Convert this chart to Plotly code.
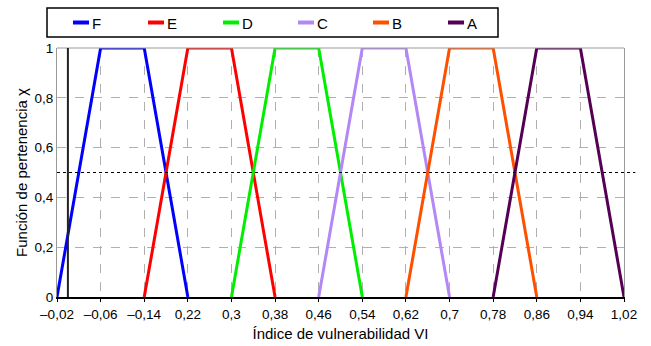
import plotly.graph_objects as go

# Data
tick_vals = [-0.02, 0.06, 0.14, 0.22, 0.30, 0.38, 0.46, 0.54, 0.62, 0.70, 0.78, 0.86, 0.94, 1.02]
tick_text = ["–0,02", "–0,06", "–0,14", "0,22", "0,3", "0,38", "0,46", "0,54",
             "0,62", "0,7", "0,78", "0,86", "0,94", "1,02"]
classes = ["F", "E", "D", "C", "B", "A"]
class_x = [
    [-0.02, 0.06, 0.14, 0.22],
    [0.14, 0.22, 0.30, 0.38],
    [0.30, 0.38, 0.46, 0.54],
    [0.46, 0.54, 0.62, 0.70],
    [0.62, 0.70, 0.78, 0.86],
    [0.78, 0.86, 0.94, 1.02],
]
membership = [0, 1, 1, 0]
colors = ["#0000ff", "#ff0000", "#00ee00", "#b388f5", "#ff5000", "#560055"]
threshold = 0.5

fig = go.Figure()
for name, xs, c in zip(classes, class_x, colors):
    fig.add_trace(go.Scatter(x=xs, y=membership, mode="lines", name=name,
                             line=dict(color=c, width=3), showlegend=False,
                             cliponaxis=False))

font = "Liberation Sans, Arial, sans-serif"

fig.update_layout(
    width=651, height=346,
    margin=dict(l=57, r=27, t=48, b=49),
    paper_bgcolor="white", plot_bgcolor="white",
    separators=",.",
    font=dict(family=font, size=13, color="black"),
    showlegend=False,
    xaxis=dict(range=[-0.02, 1.02], tickmode="array", tickvals=tick_vals, ticktext=tick_text,
               automargin=False,
               showgrid=True, gridcolor="#b0b0b0", griddash="dash", gridwidth=1,
               showline=True, linecolor="black", linewidth=1.5, zeroline=False,
               ticks="outside", ticklen=3, tickcolor="black", tickwidth=1,
               ticklabelstandoff=1, tickfont=dict(size=13.5),
               title=dict(text="Índice de vulnerabilidad VI", font=dict(size=15), standoff=8)),
    yaxis=dict(range=[0, 1], tickvals=[0, 0.2, 0.4, 0.6, 0.8, 1],
               automargin=False,
               showgrid=True, gridcolor="#b0b0b0", griddash="dash", gridwidth=1,
               showline=True, linecolor="#999999", linewidth=1, mirror=True, zeroline=False,
               ticks="", tickfont=dict(size=13.5),
               title=dict(text="Función de pertenencia χ", font=dict(size=15), standoff=3)),
)

# top frame
fig.add_shape(type="line", xref="paper", yref="paper", x0=0, x1=1, y0=1, y1=1,
              line=dict(color="#999999", width=1))
# vertical axis line at x=0
fig.add_shape(type="line", xref="x", yref="y", x0=0, x1=0, y0=0, y1=1,
              line=dict(color="#222222", width=2))
# threshold line
fig.add_shape(type="line", xref="paper", yref="y", x0=0, x1=1.02, y0=threshold, y1=threshold,
              line=dict(color="black", width=1, dash="dot"))

# manual legend
fig.add_shape(type="rect", xref="paper", yref="paper",
              x0=(47 - 57) / 567, x1=(498 - 57) / 567,
              y0=(297 - 37) / 249, y1=(297 - 8) / 249,
              line=dict(color="black", width=1.5), fillcolor="white")
for i, (name, c) in enumerate(zip(classes, colors)):
    px0 = 73 + i * 75
    fig.add_shape(type="line", xref="paper", yref="paper",
                  x0=(px0 - 57) / 567, x1=(px0 + 16 - 57) / 567,
                  y0=(297 - 22.5) / 249, y1=(297 - 22.5) / 249,
                  line=dict(color=c, width=4))
    fig.add_annotation(xref="paper", yref="paper", x=(px0 + 17 - 57) / 567,
                       y=(297 - 23) / 249, text=name, showarrow=False,
                       xanchor="left", yanchor="middle", font=dict(size=15))

fig.write_html("out.html")
